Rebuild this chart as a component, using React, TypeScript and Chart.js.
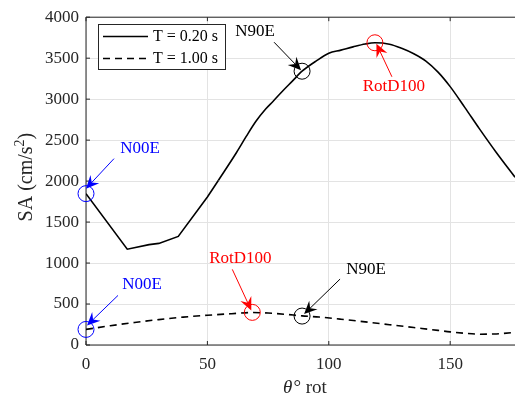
import React, { useEffect, useRef } from "react";
import { Chart, registerables } from "chart.js";

Chart.register(...registerables);

// T = 0.20 s (solid): piecewise-linear start, then smooth part
const thetaShortA = [0, 17, 26, 30, 38, 50, 54.5];
const saShortA = [1847, 1169, 1225, 1240, 1325, 1807, 2008];
const thetaShortB = [54.5, 62, 66, 70, 74, 77, 81, 85, 89, 95, 100, 105, 110, 115, 119, 125, 130, 135, 140, 145, 150, 156, 162, 169, 176.7];
const saShortB = [2008, 2349, 2545, 2730, 2880, 2972, 3100, 3220, 3341, 3470, 3560, 3598, 3638, 3673, 3688, 3670, 3620, 3554, 3465, 3330, 3153, 2900, 2640, 2349, 2048];

// T = 1.00 s (dashed)
const thetaLong = [0, 10, 20, 30, 40, 50, 60, 68.5, 75, 82, 89, 96, 105, 115, 125, 135, 145, 150, 156, 162, 168, 172, 176.7];
const saLong = [190, 235, 275, 310, 340, 363, 382, 396, 390, 375, 355, 341, 315, 282, 248, 213, 178, 160, 143, 132, 135, 142, 153];

const xTicks = [0, 50, 100, 150];
const legendLabels = ["T = 0.20 s", "T = 1.00 s"];

// annotations: label, theta, SA value
const annotLabels = ["N00E", "N90E", "RotD100", "N00E", "RotD100", "N90E"];
const annotTheta = [0, 89, 119, 0, 68.5, 89];
const annotSA = [1847, 3341, 3688, 190, 398, 353];
const annotColors = ["#0000ff", "#000000", "#ff0000", "#0000ff", "#ff0000", "#000000"];
// pixel offsets relative to circle centre: text centre, arrow tail, arrow tip
const annotText = [[54, -45], [-47, -40], [19, 44], [56, -45], [-12, -54], [64, -47]];
const annotTail = [[28, -35], [-28, -29], [17, 34], [32, -34], [-20, -43], [38, -37]];
const annotTip = [[0, -5], [-1, -1], [1.5, 1], [1, -4], [-1, -2], [2, -2]];

const FONT = '"Liberation Serif", "Times New Roman", serif';
const AXIS = "#262626";

function drawArrow(ctx: CanvasRenderingContext2D, x1: number, y1: number, x2: number, y2: number, color: string) {
  const ang = Math.atan2(y2 - y1, x2 - x1);
  const c = Math.cos(ang), s = Math.sin(ang);
  const L = 13, W = 6, back = 0.35;
  ctx.strokeStyle = color;
  ctx.fillStyle = color;
  ctx.lineWidth = 1;
  ctx.beginPath();
  ctx.moveTo(x1, y1);
  ctx.lineTo(x2 - c * L * 0.6, y2 - s * L * 0.6);
  ctx.stroke();
  const bx = x2 - L * c, by = y2 - L * s;
  const nx = -s, ny = c;
  ctx.beginPath();
  ctx.moveTo(x2, y2);
  ctx.lineTo(bx + nx * W, by + ny * W);
  ctx.lineTo(x2 - L * (1 - back) * c, y2 - L * (1 - back) * s);
  ctx.lineTo(bx - nx * W, by - ny * W);
  ctx.closePath();
  ctx.fill();
}

const decorPlugin = {
  id: "decor",
  beforeDatasetsDraw(chart: any) {
    const ctx = chart.ctx as CanvasRenderingContext2D;
    const a = chart.chartArea;
    const xs = chart.scales.x;
    const ys = chart.scales.y;
    ctx.save();
    ctx.strokeStyle = AXIS;
    ctx.lineWidth = 1;
    ctx.beginPath();
    ctx.moveTo(a.left, a.top);
    ctx.lineTo(a.right, a.top);
    ctx.moveTo(a.left, a.top);
    ctx.lineTo(a.left, a.bottom);
    ctx.lineTo(a.right, a.bottom);
    xTicks.forEach((v) => {
      const px = xs.getPixelForValue(v);
      ctx.moveTo(px, a.bottom);
      ctx.lineTo(px, a.bottom - 4);
      ctx.moveTo(px, a.top);
      ctx.lineTo(px, a.top + 4);
    });
    ys.ticks.forEach((t: any) => {
      const py = ys.getPixelForValue(t.value);
      ctx.moveTo(a.left, py);
      ctx.lineTo(a.left + 4, py);
    });
    ctx.stroke();
    ctx.restore();
  },
  afterDatasetsDraw(chart: any) {
    const ctx = chart.ctx as CanvasRenderingContext2D;
    const xs = chart.scales.x;
    const ys = chart.scales.y;
    ctx.save();
    annotLabels.forEach((lab, i) => {
      const cx = xs.getPixelForValue(annotTheta[i]);
      const cy = ys.getPixelForValue(annotSA[i]);
      const col = annotColors[i];
      ctx.strokeStyle = col;
      ctx.lineWidth = 1;
      ctx.beginPath();
      ctx.arc(cx, cy, 8, 0, Math.PI * 2);
      ctx.stroke();
      drawArrow(ctx, cx + annotTail[i][0], cy + annotTail[i][1], cx + annotTip[i][0], cy + annotTip[i][1], col);
      ctx.fillStyle = col;
      ctx.font = `17px ${FONT}`;
      ctx.textAlign = "center";
      ctx.textBaseline = "middle";
      ctx.fillText(lab, cx + annotText[i][0], cy + annotText[i][1]);
    });

    // legend
    const lx = 98, ly = 24, lw = 127, lh = 45;
    ctx.fillStyle = "#ffffff";
    ctx.fillRect(lx, ly, lw, lh);
    ctx.strokeStyle = AXIS;
    ctx.lineWidth = 1;
    ctx.strokeRect(lx + 0.5, ly + 0.5, lw, lh);
    ctx.strokeStyle = "#000";
    ctx.lineWidth = 1.6;
    ctx.beginPath();
    ctx.moveTo(103, 36.5);
    ctx.lineTo(148, 36.5);
    ctx.stroke();
    ctx.setLineDash([7, 5]);
    ctx.beginPath();
    ctx.moveTo(103, 58.5);
    ctx.lineTo(148, 58.5);
    ctx.stroke();
    ctx.setLineDash([]);
    ctx.fillStyle = "#000";
    ctx.font = `16px ${FONT}`;
    ctx.textAlign = "left";
    ctx.textBaseline = "middle";
    ctx.fillText(legendLabels[0], 153, 37);
    ctx.fillText(legendLabels[1], 153, 59);

    // axis titles
    const a = chart.chartArea;
    ctx.fillStyle = AXIS;
    ctx.textBaseline = "alphabetic";
    ctx.font = `italic 19px ${FONT}`;
    const wTheta = ctx.measureText("θ").width;
    ctx.font = `19px ${FONT}`;
    const wRest = ctx.measureText("° rot").width;
    const xc = (a.left + a.right) / 2 + 4;
    const sx = xc - (wTheta + wRest) / 2;
    ctx.font = `italic 19px ${FONT}`;
    ctx.textAlign = "left";
    ctx.fillText("θ", sx, 393);
    ctx.font = `19px ${FONT}`;
    ctx.fillText("° rot", sx + wTheta + 1, 393);

    ctx.translate(32, (a.top + a.bottom) / 2 - 4);
    ctx.rotate(-Math.PI / 2);
    ctx.font = `20px ${FONT}`;
    const w1 = ctx.measureText("SA (cm/s").width;
    const w3 = ctx.measureText(")").width;
    ctx.font = `14px ${FONT}`;
    const w2 = ctx.measureText("2").width;
    const tx = -(w1 + w2 + w3) / 2;
    ctx.font = `20px ${FONT}`;
    ctx.fillText("SA (cm/s", tx, 0);
    ctx.font = `14px ${FONT}`;
    ctx.fillText("2", tx + w1, -8);
    ctx.font = `20px ${FONT}`;
    ctx.fillText(")", tx + w1 + w2, 0);
    ctx.restore();
  },
};

export default function App() {
  const ref = useRef<HTMLCanvasElement>(null);
  useEffect(() => {
    if (!ref.current) return;
    const chart = new Chart(ref.current, {
      type: "line",
      data: {
        datasets: [
          {
            label: legendLabels[0],
            data: thetaShortA.map((t, i) => ({ x: t, y: saShortA[i] })),
            borderColor: "#000",
            borderWidth: 1.6,
            pointRadius: 0,
            tension: 0,
          },
          {
            label: legendLabels[0],
            data: thetaShortB.map((t, i) => ({ x: t, y: saShortB[i] })),
            borderColor: "#000",
            borderWidth: 1.6,
            pointRadius: 0,
            cubicInterpolationMode: "monotone",
          },
          {
            label: legendLabels[1],
            data: thetaLong.map((t, i) => ({ x: t, y: saLong[i] })),
            borderColor: "#000",
            borderWidth: 1.6,
            borderDash: [7, 5],
            pointRadius: 0,
            cubicInterpolationMode: "monotone",
          },
        ],
      },
      options: {
        responsive: false,
        animation: false,
        devicePixelRatio: 1,
        layout: { padding: { top: 13, right: 0, left: 0, bottom: 0 } },
        plugins: { legend: { display: false }, tooltip: { enabled: false } },
        scales: {
          x: {
            type: "linear",
            min: 0,
            max: 176.7,
            afterBuildTicks: (s: any) => {
              s.ticks = xTicks.map((v) => ({ value: v }));
            },
            afterFit: (s: any) => {
              s.height = 53;
            },
            ticks: { font: { family: FONT, size: 17 }, color: AXIS, padding: 9, maxRotation: 0, callback: (v: any) => String(v) },
            grid: { color: "#e3e3e3", drawTicks: false },
            border: { display: false },
          },
          y: {
            min: 0,
            max: 4000,
            afterFit: (s: any) => {
              s.width = 86;
            },
            ticks: { stepSize: 500, font: { family: FONT, size: 17 }, color: AXIS, padding: 7, callback: (v: any) => String(v) },
            grid: { color: "#e3e3e3", drawTicks: false },
            border: { display: false },
          },
        },
      },
      plugins: [decorPlugin],
    });
    return () => chart.destroy();
  }, []);
  return (
    <div style={{ position: "absolute", left: 0, top: 0, width: 515, height: 398, background: "#fff" }}>
      <canvas ref={ref} width={515} height={398} style={{ display: "block" }} />
    </div>
  );
}
